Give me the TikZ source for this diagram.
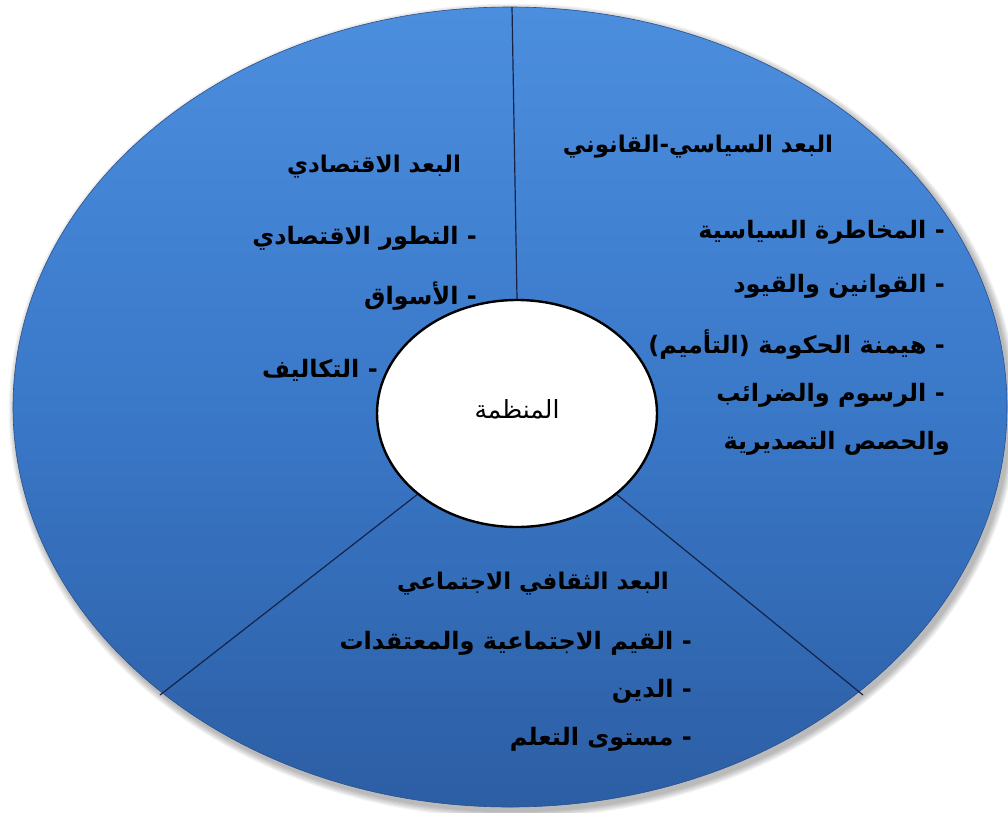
\documentclass[tikz,border=0pt]{standalone}
\usepackage{fontspec}
\usetikzlibrary{shapes.geometric}
\newfontfamily\arabicfont[Script=Arabic]{DejaVu Sans}
\TeXXeTstate=1
\definecolor{blueTop}{RGB}{76,142,222}
\definecolor{blueMid}{RGB}{58,120,200}
\definecolor{blueBot}{RGB}{44,94,164}
\definecolor{blueEdge}{RGB}{40,80,140}
\definecolor{navy}{RGB}{22,34,70}
\tikzset{
  txt/.style={font=\arabicfont\bfseries\fontsize{24}{29}\selectfont, text=black, inner sep=0pt},
  item/.style={txt, anchor=base east},
  head/.style={txt, font=\arabicfont\bfseries\fontsize{23}{28}\selectfont, anchor=base},
  divider/.style={draw=navy, line width=1.2pt},
}
\begin{document}
\begin{tikzpicture}[x=1pt,y=-1pt]
\useasboundingbox (0,0) rectangle (1008,812);
% soft shadow
\foreach \k in {1,...,6}{
  \fill[black, opacity=0.05] (513,411) ellipse ({497+\k*1.2pt} and {400+\k*1.2pt});
}
% outer disc
\node[ellipse, minimum width=994pt, minimum height=800pt, inner sep=0pt,
      draw=blueEdge, line width=0.6pt,
      top color=blueTop, bottom color=blueBot, middle color=blueMid] (outer) at (510,407) {};
% inner disc
\node[ellipse, minimum width=280pt, minimum height=227pt, inner sep=0pt,
      draw=black, line width=2.4pt, fill=white] (org) at (517,413.5) {};
\node[inner sep=0pt, font=\arabicfont\fontsize{25}{30}\selectfont] (orglabel) at (517,409) {\beginR المنظمة\endR};
% dividers
\coordinate (topend) at (512,7);
\coordinate (llend) at (160,695);
\coordinate (lrend) at (863,695);
\draw[divider] (topend) -- (org.north);
\draw[divider] (org.south west) -- (llend);
\draw[divider] (org.south east) -- (lrend);
% right block
\node[head] (rt) at (698,152) {\beginR البعد السياسي-القانوني\endR};
\node[item] (r1) at (945,238) {\beginR - المخاطرة السياسية\endR};
\node[item] (r2) at (945,292) {\beginR - القوانين والقيود\endR};
\node[item] (r3) at (945,353) {\beginR - هيمنة الحكومة (التأميم)\endR};
\node[item] (r4) at (945,401) {\beginR - الرسوم والضرائب\endR};
\node[item] (r5) at (950,449) {\beginR والحصص التصديرية\endR};
% left block
\node[head] (lt) at (374,172) {\beginR البعد الاقتصادي\endR};
\node[item] (l1) at (477,244) {\beginR - التطور الاقتصادي\endR};
\node[item] (l2) at (477,304) {\beginR - الأسواق\endR};
\node[item] (l3) at (378,377) {\beginR - التكاليف\endR};
% bottom block
\node[head] (bt) at (533,589) {\beginR البعد الثقافي الاجتماعي\endR};
\node[item] (b1) at (692,649) {\beginR - القيم الاجتماعية والمعتقدات\endR};
\node[item] (b2) at (692,697) {\beginR - الدين\endR};
\node[item] (b3) at (692,745) {\beginR - مستوى التعلم\endR};
\end{tikzpicture}
\end{document}
